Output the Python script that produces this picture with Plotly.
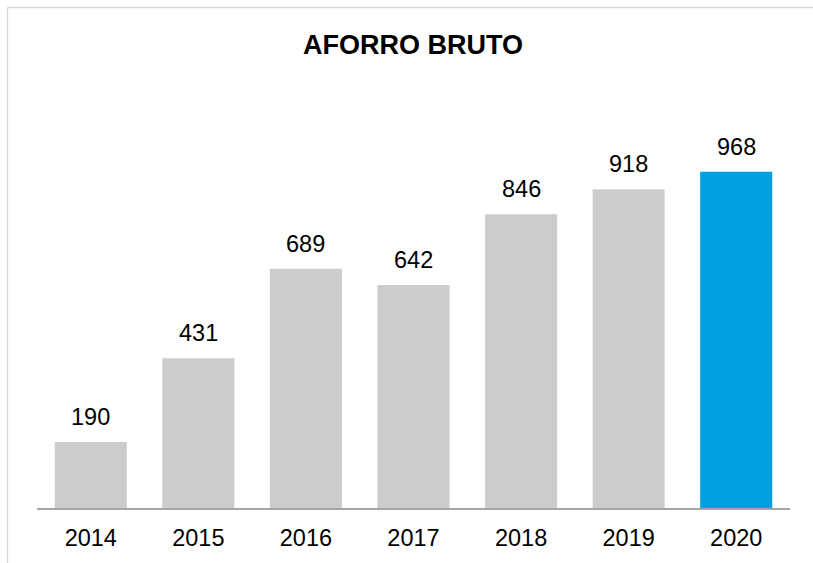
import plotly.graph_objects as go

years = ["2014", "2015", "2016", "2017", "2018", "2019", "2020"]
values = [190, 431, 689, 642, 846, 918, 968]
colors = ["#cccccc"] * 6 + ["#009fe0"]

W, H = 813, 563
L, R, T, B = 37, 23, 60, 55
pw, ph = W - L - R, H - T - B

FONT = "Liberation Sans, Arial, sans-serif"

fig = go.Figure()
fig.add_trace(go.Bar(x=years, y=values, marker=dict(color=colors, line=dict(width=0)),
                     width=0.67, hoverinfo="skip"))

for i, v in enumerate(values):
    fig.add_annotation(x=i, y=v, xref="x", yref="y", text=str(v), showarrow=False,
                       yanchor="bottom", yshift=10,
                       font=dict(family=FONT, size=23.5, color="#000000"))

def px_x(p):
    return (p - L) / pw

def px_y(p):
    return (H - B - p) / ph

fig.add_shape(type="line", xref="paper", yref="paper", x0=px_x(7.5), x1=px_x(7.5),
              y0=px_y(7.5), y1=px_y(580), line=dict(color="#d9d9d9", width=1.3))
fig.add_shape(type="line", xref="paper", yref="paper", x0=px_x(7.5), x1=px_x(830),
              y0=px_y(7.5), y1=px_y(7.5), line=dict(color="#d9d9d9", width=1.3))

fig.update_layout(
    width=W, height=H,
    margin=dict(l=L, r=R, t=T, b=B),
    paper_bgcolor="white", plot_bgcolor="white",
    showlegend=False,
    title=dict(text="<b>AFORRO BRUTO</b>", x=413 / W, xanchor="center", y=1 - 45 / H,
               yanchor="middle", font=dict(family=FONT, size=27, color="#000000")),
    xaxis=dict(type="category", range=[-0.5, 6.5], showgrid=False, showline=True,
               linecolor="#a6a6a6", linewidth=2, ticks="", ticklabelstandoff=8,
               tickfont=dict(family=FONT, size=23.5, color="#000000"),
               fixedrange=True),
    yaxis=dict(range=[0, 1290], visible=False, showgrid=False, zeroline=False, fixedrange=True),
)

fig.write_html("out.html", config={"displayModeBar": False},
               post_script="document.body.style.margin='0';document.body.style.overflow='hidden';")
